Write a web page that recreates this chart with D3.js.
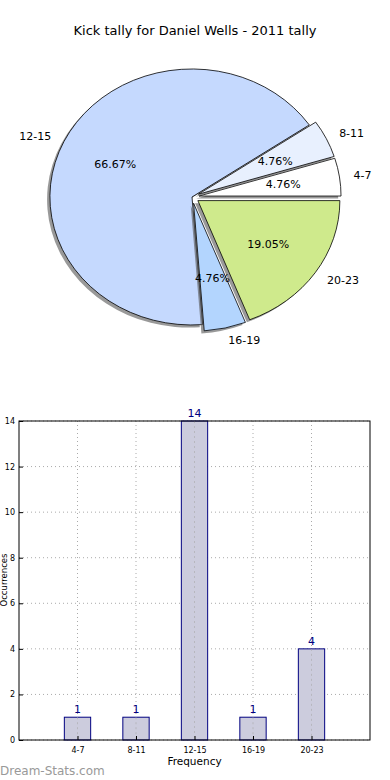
<!DOCTYPE html>
<html>
<head>
<meta charset="utf-8">
<script src="https://cdn.jsdelivr.net/npm/d3@7"></script>
<style>
  body { margin: 0; background: #fff; }
  svg { display: block; font-family: "DejaVu Sans", sans-serif; }
</style>
</head>
<body>
<svg id="chart" width="390" height="780"></svg>
<script>
const categories = ["4-7", "8-11", "12-15", "16-19", "20-23"];
const counts = [1, 1, 14, 1, 4];
const explode = [0.05, 0.05, 0, 0.05, 0.05];
const sliceColors = ["#ffffff", "#e8f0fe", "#c5d9fe", "#b3d5fe", "#cfea8c"];
const yTicks = [0, 2, 4, 6, 8, 10, 12, 14];

const svg = d3.select("#chart");

svg.append("text")
    .attr("x", 195).attr("y", 35)
    .attr("text-anchor", "middle")
    .attr("font-size", 13)
    .text("Kick tally for Daniel Wells - 2011 tally");

// ---- pie (elliptical, like an unequal-aspect matplotlib pie) ----
const cx = 192, cy = 197, rx = 142, ry = 128;
const total = d3.sum(counts);

const pie = d3.pie()
    .sort(null)
    .startAngle(Math.PI / 2)
    .endAngle(Math.PI / 2 - 2 * Math.PI);

const arc = d3.arc().innerRadius(0).outerRadius(1);
const arcs = pie(counts);

// position in pie units -> screen
const px = (d, r) => cx + r * rx * Math.sin((d.startAngle + d.endAngle) / 2);
const py = (d, r) => cy - r * ry * Math.cos((d.startAngle + d.endAngle) / 2);

const pieG = svg.append("g");
arcs.forEach((d, i) => {
    const ox = px(d, explode[i]), oy = py(d, explode[i]);
    // shadow
    pieG.append("path")
        .attr("d", arc(d))
        .attr("transform", `translate(${ox - 0.02 * rx},${oy + 0.02 * ry}) scale(${rx},${ry})`)
        .attr("fill", "#555")
        .attr("opacity", 0.6);
    pieG.append("path")
        .attr("d", arc(d))
        .attr("transform", `translate(${ox},${oy}) scale(${rx},${ry})`)
        .attr("fill", sliceColors[i])
        .attr("stroke", "#000")
        .attr("stroke-width", 0.8)
        .attr("vector-effect", "non-scaling-stroke");
});

arcs.forEach((d, i) => {
    const lx = px(d, 1.1 + explode[i]);
    const ly = py(d, 1.1 + explode[i]);
    svg.append("text")
        .attr("x", lx).attr("y", ly)
        .attr("dy", "0.35em")
        .attr("text-anchor", lx > cx ? "start" : "end")
        .attr("font-size", 11)
        .text(categories[i]);
    svg.append("text")
        .attr("x", px(d, 0.6 + explode[i])).attr("y", py(d, 0.6 + explode[i]))
        .attr("dy", "0.35em")
        .attr("text-anchor", "middle")
        .attr("font-size", 11)
        .text((counts[i] / total * 100).toFixed(2) + "%");
});

// ---- bar chart ----
const plotLeft = 19, plotRight = 370, plotTop = 421, plotBottom = 740;

const x = d3.scaleLinear()
    .domain([-1, categories.length])
    .range([plotLeft, plotRight]);

const y = d3.scaleLinear()
    .domain([0, 14])
    .range([plotBottom, plotTop]);

const grid = svg.append("g")
    .attr("stroke", "#aaa")
    .attr("stroke-dasharray", "1,3");

grid.selectAll("line.v")
    .data(categories)
    .join("line")
    .attr("class", "v")
    .attr("x1", (d, i) => x(i)).attr("x2", (d, i) => x(i))
    .attr("y1", plotTop).attr("y2", plotBottom);

grid.selectAll("line.h")
    .data(yTicks)
    .join("line")
    .attr("class", "h")
    .attr("x1", plotLeft).attr("x2", plotRight)
    .attr("y1", d => y(d)).attr("y2", d => y(d));

const barW = x(0.45) - x(0);
svg.append("g")
    .selectAll("rect")
    .data(counts)
    .join("rect")
    .attr("x", (d, i) => x(i) - barW / 2)
    .attr("y", d => y(d))
    .attr("width", barW)
    .attr("height", d => y(0) - y(d))
    .attr("fill", "#ccccdd")
    .attr("stroke", "#000080")
    .attr("stroke-width", 1);

// grid shows through bars faintly
svg.append("g")
    .attr("stroke", "#aaa")
    .attr("stroke-dasharray", "2,3")
    .attr("opacity", 0.6)
    .selectAll("line")
    .data(counts)
    .join("line")
    .attr("x1", (d, i) => x(i)).attr("x2", (d, i) => x(i))
    .attr("y1", d => y(d)).attr("y2", plotBottom);

svg.append("g")
    .selectAll("text")
    .data(counts)
    .join("text")
    .attr("x", (d, i) => x(i))
    .attr("y", d => y(d) - 4)
    .attr("text-anchor", "middle")
    .attr("font-size", 11)
    .attr("fill", "#000080")
    .text(d => d);

svg.append("rect")
    .attr("x", plotLeft).attr("y", plotTop)
    .attr("width", plotRight - plotLeft).attr("height", plotBottom - plotTop)
    .attr("fill", "none")
    .attr("stroke", "#000")
    .attr("stroke-width", 1);

const yAxis = g => g
    .attr("transform", `translate(${plotLeft},0)`)
    .call(d3.axisLeft(y).tickValues(yTicks).tickSize(-4).tickPadding(4))
    .call(g => g.select(".domain").remove())
    .call(g => g.selectAll("text").attr("font-size", 8).attr("font-family", "DejaVu Sans"));

const xAxis = g => g
    .attr("transform", `translate(0,${plotBottom})`)
    .call(d3.axisBottom(x).tickValues(d3.range(categories.length))
        .tickFormat(i => categories[i]).tickSize(-4).tickPadding(7))
    .call(g => g.select(".domain").remove())
    .call(g => g.selectAll("text").attr("font-size", 8).attr("font-family", "DejaVu Sans"));

svg.append("g").call(yAxis);
svg.append("g").call(xAxis);

svg.append("text")
    .attr("x", (plotLeft + plotRight) / 2).attr("y", 765)
    .attr("text-anchor", "middle")
    .attr("font-size", 10.5)
    .text("Frequency");

svg.append("text")
    .attr("transform", "translate(4.5,580) rotate(-90)")
    .attr("dy", "0.35em")
    .attr("text-anchor", "middle")
    .attr("font-size", 8.5)
    .text("Occurrences");

svg.append("text")
    .attr("x", 0).attr("y", 775)
    .attr("font-size", 12)
    .attr("fill", "#999")
    .text("Dream-Stats.com");
</script>
</body>
</html>
